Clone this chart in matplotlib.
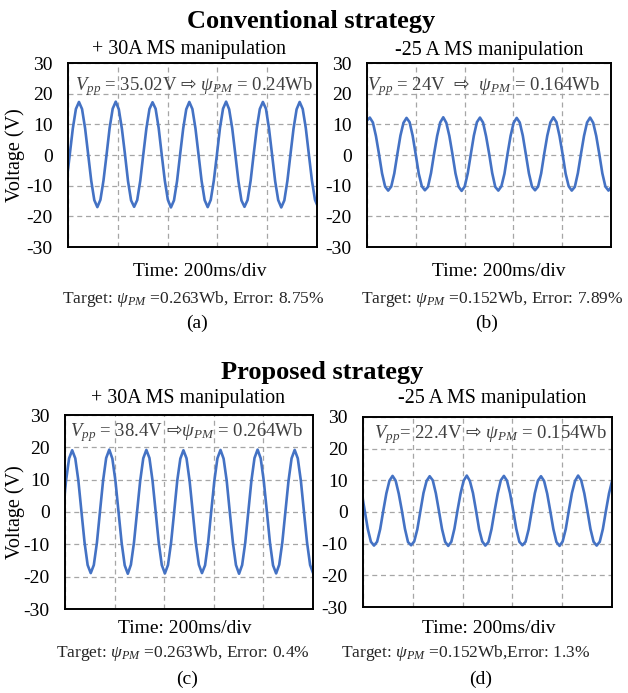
import numpy as np
import matplotlib
matplotlib.use('Agg')
import matplotlib.pyplot as plt

plt.rcParams['font.family'] = ['Liberation Serif', 'DejaVu Serif']
plt.rcParams['mathtext.fontset'] = 'custom'
plt.rcParams['mathtext.rm'] = 'Liberation Serif'
plt.rcParams['mathtext.it'] = 'Liberation Serif:italic'
plt.rcParams['mathtext.bf'] = 'Liberation Serif:bold'
plt.rcParams['mathtext.sf'] = 'DejaVu Sans'
plt.rcParams['mathtext.fallback'] = 'stix'

# scope traces, one sample every 1/12 period (ms), voltage in V
start_a, step_a = -17.5, 12.31
volt_a = [-14.7, -8.4, 0.2, 8.7, 15.0, 17.3, 15.0, 8.7, 0.2, -8.4, -14.7, -17.0,
          -14.6, -8.3, 0.1, 8.8, 15.1, 17.4, 14.9, 8.6, 0.3, -8.5, -14.8, -16.9,
          -14.7, -8.4, 0.3, 8.7, 15.0, 17.2, 15.1, 8.8, 0.1, -8.3, -14.6, -17.1,
          -14.8, -8.5, 0.2, 8.6, 14.9, 17.3, 15.0, 8.7, 0.2, -8.4, -14.7, -17.0,
          -14.6, -8.3, 0.1, 8.8, 15.1, 17.4, 14.9, 8.7, 0.3, -8.4, -14.8, -16.9,
          -14.7, -8.4, 0.3, 8.7, 15.0, 17.3, 15.1, 8.6, 0.1, -8.5, -14.7, -17.1,
          -14.8, -8.4, 0.2, 8.6, 14.9, 17.3, 15.0, 8.8, 0.2, -8.3, -14.6, -17.0]

start_b, step_b = -1.0, 12.54
volt_b = [11.2, 12.2, 10.6, 6.2, 0.3, -6.0, -10.3, -11.6, -10.3, -6.0, 0.3, 6.3,
          10.5, 12.1, 10.7, 6.3, 0.2, -6.1, -10.2, -11.5, -10.4, -5.9, 0.4, 6.2,
          10.6, 12.3, 10.5, 6.2, 0.3, -6.0, -10.3, -11.7, -10.3, -6.0, 0.2, 6.3,
          10.7, 12.2, 10.6, 6.1, 0.4, -5.9, -10.4, -11.6, -10.2, -6.1, 0.3, 6.2,
          10.5, 12.1, 10.6, 6.3, 0.2, -6.0, -10.3, -11.5, -10.3, -6.0, 0.4, 6.3,
          10.6, 12.3, 10.7, 6.2, 0.3, -6.1, -10.2, -11.6, -10.4, -5.9, 0.3, 6.2,
          10.6, 12.2, 10.5, 6.2, 0.3, -6.0, -10.3, -11.6, -10.3]

start_c, step_c = -8.4, 12.46
volt_c = [0.1, 9.6, 16.6, 19.1, 16.6, 9.7, 0.1, -9.4, -16.4, -18.9, -16.4, -9.5,
          0.2, 9.7, 16.7, 19.3, 16.5, 9.6, 0.0, -9.5, -16.5, -19.1, -16.3, -9.4,
          0.1, 9.6, 16.6, 19.2, 16.7, 9.7, 0.2, -9.4, -16.4, -19.0, -16.4, -9.5,
          0.0, 9.7, 16.5, 19.1, 16.6, 9.6, 0.1, -9.5, -16.3, -18.9, -16.5, -9.4,
          0.2, 9.6, 16.6, 19.2, 16.5, 9.7, 0.0, -9.4, -16.4, -19.1, -16.4, -9.5,
          0.1, 9.7, 16.7, 19.3, 16.6, 9.6, 0.2, -9.5, -16.5, -19.0, -16.3, -9.4,
          0.1, 9.6, 16.6, 19.2, 16.6, 9.7, 0.1, -9.4, -16.4, -19.0]

start_d, step_d = -5.5, 12.42
volt_d = [6.2, 0.4, -5.4, -9.4, -10.6, -9.4, -5.4, 0.4, 5.9, 9.9, 11.4, 9.9,
          5.8, 0.5, -5.3, -9.5, -10.5, -9.3, -5.5, 0.3, 6.0, 9.8, 11.3, 10.0,
          5.9, 0.3, -5.4, -9.4, -10.7, -9.4, -5.3, 0.5, 5.9, 9.9, 11.5, 9.8,
          6.0, 0.4, -5.5, -9.3, -10.6, -9.5, -5.4, 0.4, 5.8, 10.0, 11.4, 9.9,
          5.9, 0.5, -5.3, -9.4, -10.5, -9.4, -5.5, 0.3, 5.9, 9.9, 11.3, 9.8,
          5.8, 0.3, -5.4, -9.5, -10.7, -9.3, -5.4, 0.5, 6.0, 9.8, 11.5, 10.0,
          5.9, 0.4, -5.4, -9.4, -10.6, -9.4, -5.4, 0.4, 5.9, 9.9, 11.4]

yticks = [-30, -20, -10, 0, 10, 20, 30]
subtitles = ['+ 30A MS manipulation', '-25 A MS manipulation',
             '+ 30A MS manipulation', '-25 A MS manipulation']
arrow = r'$\mathsf{⇨}$'
vpp_labels = [r'$V_{pp}$ = 35.02V ' + arrow + r' $\psi_{PM}$ = 0.24Wb',
              r'$V_{pp}$ = 24V  ' + arrow + r'  $\psi_{PM}$ = 0.164Wb',
              r'$V_{pp}$ = 38.4V ' + arrow + r'$\psi_{PM}$ = 0.264Wb',
              r'$V_{pp}$= 22.4V ' + arrow + r' $\psi_{PM}$ = 0.154Wb']
targets = [r'Target: $\psi_{PM}$ =0.263Wb, Error: 8.75%',
           r'Target: $\psi_{PM}$ =0.152Wb, Error: 7.89%',
           r'Target: $\psi_{PM}$ =0.263Wb, Error: 0.4%',
           r'Target: $\psi_{PM}$ =0.152Wb,Error: 1.3%']
letters = ['(a)', '(b)', '(c)', '(d)']

starts = [start_a, start_b, start_c, start_d]
steps = [step_a, step_b, step_c, step_d]
volts = [volt_a, volt_b, volt_c, volt_d]

W, H = 628, 693
fig = plt.figure(figsize=(W / 100, H / 100), dpi=100)


def fx(px):
    return px / W


def fy(py):
    return 1 - py / H


# axes boxes in pixels: left, top, right, bottom
boxes = [(68, 63, 317, 247), (367, 63, 611, 247),
         (65, 415, 313, 609), (363, 417, 612, 607)]
vpp_pos = [(0.506, 0.871), (0.48, 0.871), (0.49, 0.907), (0.514, 0.907)]
sub_pos = [(189, 54), (489, 55), (188, 403), (492, 403)]
time_pos = [(200, 276), (499, 276), (185, 633), (489, 633)]
target_pos = [(193, 303), (492, 303), (183, 657), (466, 657)]
letter_pos = [(197, 328), (487, 328), (187, 684), (481, 684)]

for i, (l, t, r, b) in enumerate(boxes):
    ax = fig.add_axes([fx(l), fy(b), (r - l) / W, (b - t) / H])
    ts = starts[i] + steps[i] * np.arange(len(volts[i]))
    ax.plot(ts, volts[i], color='#4472c4', lw=1.9)
    ax.set_xlim(0, 1000)
    ax.set_ylim(-30, 30)
    ax.set_xticks(np.arange(0, 1001, 200))
    ax.set_yticks(yticks)
    ax.set_yticklabels([str(v) for v in yticks])
    ax.xaxis.set_ticklabels([])
    ax.tick_params(axis='x', length=0)
    ax.tick_params(axis='y', length=0, pad=11, labelsize=14)
    ax.grid(True, color='#a6a6a6', ls=(0, (4, 3)), lw=0.9)
    for s in ax.spines.values():
        s.set_linewidth(1.4)
    ax.text(*vpp_pos[i], vpp_labels[i], transform=ax.transAxes,
            ha='center', va='center', fontsize=13.5, color='#404040')

    fig.text(fx(sub_pos[i][0]), fy(sub_pos[i][1]), subtitles[i],
             ha='center', va='baseline', fontsize=14.4)
    fig.text(fx(time_pos[i][0]), fy(time_pos[i][1]), 'Time: 200ms/div',
             ha='center', va='baseline', fontsize=14)
    fig.text(fx(target_pos[i][0]), fy(target_pos[i][1]), targets[i],
             ha='center', va='baseline', fontsize=12.5, color='#262626')
    fig.text(fx(letter_pos[i][0]), fy(letter_pos[i][1]), letters[i],
             ha='center', va='baseline', fontsize=14)

fig.text(fx(311), fy(28), 'Conventional strategy', ha='center',
         va='baseline', fontsize=19, fontweight='bold')
fig.text(fx(322), fy(379), 'Proposed strategy', ha='center',
         va='baseline', fontsize=19, fontweight='bold')

fig.text(fx(15), fy(155), 'Voltage (V)', rotation=90, ha='center',
         va='center', fontsize=14.5)
fig.text(fx(15), fy(512), 'Voltage (V)', rotation=90, ha='center',
         va='center', fontsize=14.5)

fig.savefig('out.png', dpi=100)
